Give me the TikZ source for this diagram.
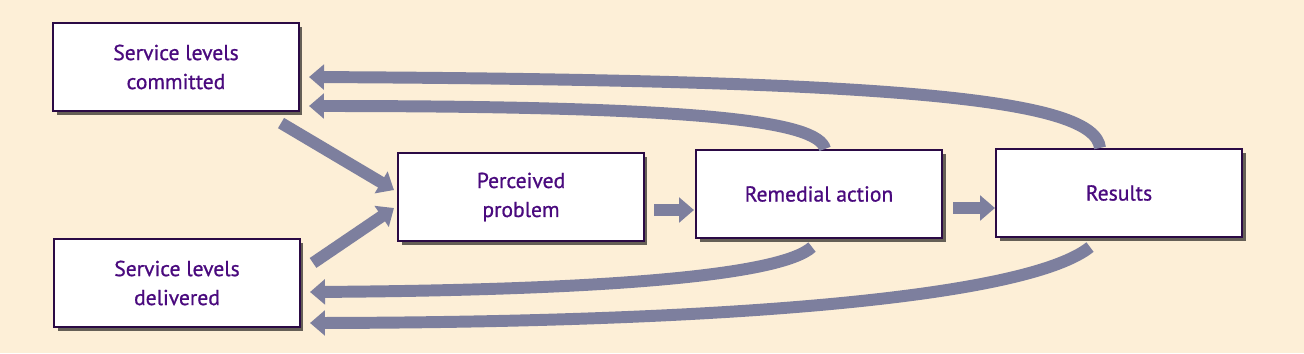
\documentclass[tikz,border=0pt]{standalone}
\usepackage{fontspec}
\setmainfont{PT Sans}
\newfontfamily\boxfont[FakeBold=0.8]{PT Sans}
\usepackage{xcolor}
\usetikzlibrary{arrows.meta,shadows}
\definecolor{paper}{HTML}{FDEFD7}
\definecolor{boxline}{HTML}{2B0A45}
\definecolor{ink}{HTML}{4A0A7E}
\definecolor{flowgrey}{HTML}{7D7F9E}

\begin{document}
\begin{tikzpicture}[x=0.02cm,y=-0.02cm,
	box/.style={draw=boxline,line width=1.2pt,fill=white,minimum width=4.92cm,minimum height=1.76cm,text=ink,align=center,font=\boxfont\fontsize{12.3}{16.5}\selectfont,drop shadow={shadow xshift=2pt,shadow yshift=-2pt,fill=black,opacity=0.6}},
	flow/.style={draw=flowgrey,line width=6.8pt,-{Triangle[length=8.5pt,width=14pt]}}]
	\fill[paper](0,0)rectangle(1304,353);
	\node(slc)at(176,67)[box]{Service levels\\committed};
	\node(sld)at(177,283)[box]{Service levels\\delivered};
	\node(pp)at(521,197)[box]{Perceived\\problem};
	\node(ra)at(819,194)[box]{Remedial action};
	\node(res)at(1119,193)[box]{Results};
	\draw[flow]([shift={(-19,11)}]slc.south east)--([shift={(-3,-7)}]pp.west);
	\draw[flow]([shift={(12,25)}]sld.north east)--([shift={(-3,11)}]pp.west);
	\draw[flow]([shift={(9,13)}]pp.east)--([shift={(-1,16)}]ra.west);
	\draw[flow]([shift={(10,14)}]ra.east)--([shift={(0,15)}]res.west);
	\draw[flow]([xshift=-19*0.02cm]res.north)..controls +(-5,-49) and +(592,3)..([shift={(9,10)}]slc.east);
	\draw[flow]([xshift=6*0.02cm]ra.north)..controls +(-7,-28) and +(392,0)..([shift={(9,39)}]slc.east);
	\draw[flow]([shift={(-7,8)}]ra.south)..controls +(-32,29) and +(292,-2)..([shift={(9,9)}]sld.east);
	\draw[flow]([shift={(-29,9)}]res.south)..controls +(-60,48) and +(442,-1)..([shift={(9,40)}]sld.east);
\end{tikzpicture}
\end{document}
